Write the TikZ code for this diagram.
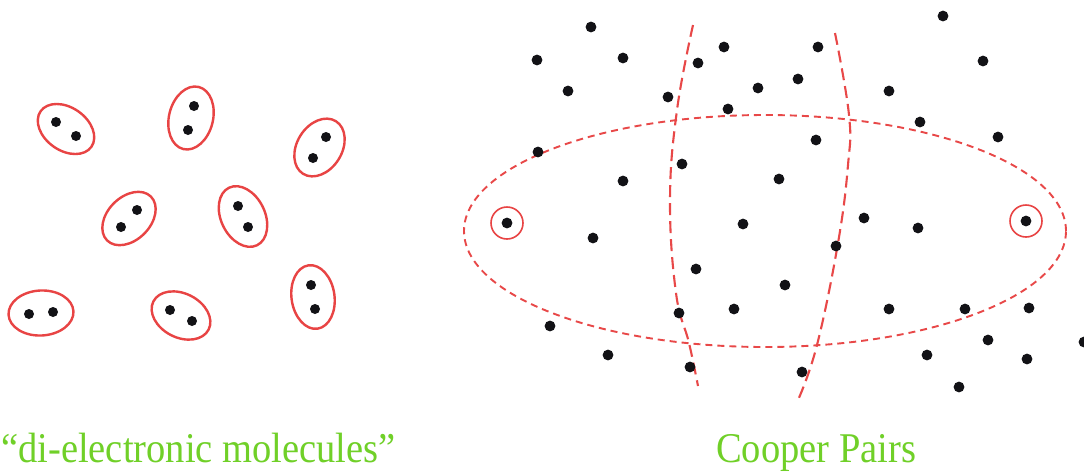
\documentclass[tikz,border=0pt]{standalone}
\usepackage{fontspec}
\setmainfont{Liberation Serif}
\definecolor{molred}{RGB}{232,68,68}
\definecolor{dashred}{RGB}{232,72,72}
\definecolor{labgreen}{RGB}{112,208,40}
\definecolor{dotblack}{RGB}{18,18,22}
\tikzset{
  electron/.style={fill=dotblack},
  molring/.style={draw=molred, line width=2.4pt},
  pairring/.style={draw=molred, line width=1.6pt},
  bigdash/.style={draw=dashred, line width=1.9pt, dash pattern=on 7pt off 5pt},
  curvedash/.style={draw=dashred, line width=2.1pt, dash pattern=on 12pt off 6pt},
  caption/.style={text=labgreen, font=\fontsize{38.5}{46}\selectfont, inner sep=0pt, anchor=base west, yscale=1.1, transform shape}
}
\newcommand{\molecule}[7]{%
  % #1,#2 centre, #3 angle, #4 xr, #5 yr, dots given as #6 and #7
  \draw[molring, rotate around={#3:(#1,#2)}] (#1,#2) ellipse [x radius=#4pt, y radius=#5pt];
  \fill[electron] #6 circle[radius=5pt];
  \fill[electron] #7 circle[radius=5pt];
}
\begin{document}
\begin{tikzpicture}[x=1pt,y=-1pt]
\useasboundingbox (0,0) rectangle (1084,475);
\fill[white] (0,0) rectangle (1084,475);

% ---- left panel: di-electronic molecules
\molecule{66}{129}{-35}{31}{21.5}{(56,122)}{(76,136)}
\molecule{191}{118}{76}{32}{22}{(194,106)}{(188,130)}
\molecule{319.5}{147.5}{58}{31}{22.5}{(326,137)}{(313,158)}
\molecule{129}{218.5}{45}{31}{21.5}{(137,210)}{(121,227)}
\molecule{243}{216.5}{-64}{32}{22}{(238,206)}{(248,227)}
\molecule{41}{313}{3}{32.5}{22.5}{(29,314)}{(53,312)}
\molecule{181}{315.5}{-27}{31}{22}{(170,310)}{(192,321)}
\molecule{313}{297}{-82}{32}{21.5}{(311,285)}{(315,309)}

% ---- right panel: Cooper pairs
\draw[bigdash] (765,231) ellipse [x radius=301pt, y radius=116pt];
\draw[curvedash] plot[smooth, tension=0.7] coordinates {(693,25) (677,110) (670,200) (676,293) (689,343) (698,386)};
\draw[curvedash] plot[smooth, tension=0.7] coordinates {(835,33) (849,115) (848,165) (838,243) (817,345) (798,400)};

\draw[pairring] (507,223) circle[radius=16pt];
\draw[pairring] (1026,221) circle[radius=16pt];

\foreach \p in {(591,27),(537,60),(623,58),(568,91),(724,47),(698,63),(668,97),(818,47),
  (758,88),(798,79),(728,109),(943,16),(983,61),(889,91),(920,122),(998,137),(816,140),
  (538,152),(682,164),(623,181),(779,179),(507,223),(593,238),(743,224),(864,218),(918,228),
  (1026,221),(836,246),(696,269),(785,285),(679,313),(734,309),(889,309),(965,309),(1029,308),
  (550,326),(608,355),(690,367),(802,372),(927,355),(988,340),(1027,359),(959,387),(1084,342)}
  {\fill[electron] \p circle[radius=5.4pt];}

% ---- captions
\node[caption] (lab1) at (1,462) {“di-electronic molecules”};
\node[caption] (lab2) at (716,462) {Cooper Pairs};
\end{tikzpicture}
\end{document}
